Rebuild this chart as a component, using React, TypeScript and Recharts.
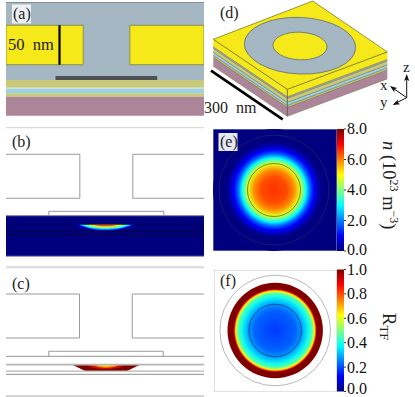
import React from "react";
import { ComposedChart, XAxis, YAxis, Area, Bar, Scatter, ReferenceArea } from "recharts";

// ---------- palette ----------
const YELLOW = "#f5e91a";
const GAP = "#a4b7c3";
const OLIVE = "#c9c97c";
const SKY = "#9bd1e6";
const MAUVE = "#ad8599";
const STRIP = "#4d5156";
const OUTLINE = "#9a9a9a";
const PALE = "#d9d9d9";
const FONT = "'Liberation Serif', serif";

// ---------- cross sections (nm) ----------
const SPAN = 247.5;
const sectionA = {
  leftDiskEnd: 96.5, rightDiskStart: 154.8, diskTop: 29.1, diskBottom: 78.4,
  stripStart: 61.9, stripEnd: 189, stripTop: 92.5, stripBottom: 97.5,
  ruleX: 66.9,
};
const stackBands = [
  { from: 97.5, to: 107.2, fill: OLIVE },
  { from: 107.2, to: 108, fill: "#e6e8c8" },
  { from: 108, to: 114.1, fill: SKY },
  { from: 114.1, to: 118.4, fill: OLIVE },
  { from: 118.4, to: 142.1, fill: MAUVE },
];

const densityOffsets = [-37.5, -33, -28, -22, -15, -8, 0, 8, 15, 22, 28, 33, 37.5];
const densityTop = 122.2;
const densityLevels = [
  { key: "d0", value: 0.12, depth: [0, 2, 3.5, 5, 6.5, 7.5, 8, 7.5, 6.5, 5, 3.5, 2, 0] },
  { key: "d1", value: 0.25, depth: [null, 0, 2, 3.8, 5.4, 6.2, 6.6, 6.2, 5.4, 3.8, 2, 0, null] },
  { key: "d2", value: 0.38, depth: [null, 0, 1.2, 3, 4.4, 5, 5.4, 5, 4.4, 3, 1.2, 0, null] },
  { key: "d3", value: 0.5, depth: [null, null, 0, 1.8, 3.2, 4, 4.2, 4, 3.2, 1.8, 0, null, null] },
  { key: "d4", value: 0.65, depth: [null, null, null, 0, 2, 2.8, 3.2, 2.8, 2, 0, null, null, null] },
  { key: "d5", value: 0.8, depth: [null, null, null, null, 0, 1.4, 1.8, 1.4, 0, null, null, null, null] },
];

const tfOffsets = [-41.7, -26, -24, -17, -10, -5, 0, 5, 10, 17, 24, 26, 41.7];
const tfTop = 128.8;
const tfLevels = [
  { key: "t0", fill: "#7f0000", depth: [0, 7.6, 7.6, 7.6, 7.6, 7.6, 7.6, 7.6, 7.6, 7.6, 7.6, 7.6, 0] },
  { key: "t1", fill: "#cc1000", depth: [null, null, 0, 3.4, 4.4, 4.8, 5, 4.8, 4.4, 3.4, 0, null, null] },
  { key: "t2", fill: "#ff9000", depth: [null, null, null, 0, 2.6, 3.2, 3.5, 3.2, 2.6, 0, null, null, null] },
  { key: "t3", fill: "#ffe800", depth: [null, null, null, null, 0, 1.6, 2, 1.6, 0, null, null, null, null] },
];

// ---------- 3D block (page units) ----------
const cornerX = [213.3, 287.3, 387.3];
const edgeY = [39.3, 89.3, 51.9];
const sideBands = [
  { key: "mauve", from: 18, to: 27, fill: MAUVE },
  { key: "olive2", from: 16, to: 18, fill: OLIVE },
  { key: "sky", from: 13, to: 16, fill: SKY },
  { key: "olive1", from: 9, to: 13, fill: OLIVE },
  { key: "slate", from: 7.5, to: 9, fill: GAP },
  { key: "gold", from: 0, to: 7.5, fill: YELLOW },
];
const topFace = [
  { x: 213.3, top: [39.3, 39.3] },
  { x: 287.3, top: [10.8, 89.3] },
  { x: 312.7, top: [1, 79.8] },
  { x: 387.3, top: [51.9, 51.9] },
];

// ---------- maps ----------
const densityRadii = [0, 13, 20, 26, 29, 32, 36, 40, 44, 48, 61];
const densityValues = [6.6, 6.4, 5.9, 4.8, 4.0, 3.0, 1.8, 1.0, 0.4, 0, 0];
const densityTicks = [0, 2, 4, 6, 8];
const ratioRadii = [0, 20, 26, 30, 34, 37, 38.5, 39.5, 40.5, 41.2, 42, 47.7];
const ratioValues = [0.18, 0.22, 0.27, 0.33, 0.4, 0.46, 0.55, 0.65, 0.8, 0.95, 1, 1];
const ratioTicks = [0, 0.2, 0.4, 0.6, 0.8, 1];

const jetKnots = [
  [0, 0, 0, 128], [0.125, 0, 0, 255], [0.375, 0, 255, 255],
  [0.625, 255, 255, 0], [0.875, 255, 0, 0], [1, 128, 0, 0],
];
const jet = (t: number) => {
  for (let i = 1; i < jetKnots.length; i++) {
    const [a, r0, g0, b0] = jetKnots[i - 1];
    const [b, r1, g1, b1] = jetKnots[i];
    if (t <= b) {
      const f = (t - a) / (b - a);
      return `rgb(${Math.round(r0 + (r1 - r0) * f)},${Math.round(g0 + (g1 - g0) * f)},${Math.round(b0 + (b1 - b0) * f)})`;
    }
  }
  return "rgb(128,0,0)";
};

const none = () => <g />;
const path = (key: string, pts: { x: number; y: number }[], stroke = OUTLINE, width = 1) => (
  <Scatter key={key} data={pts} line={{ stroke, strokeWidth: width }} shape={none} isAnimationActive={false} />
);
const seg = (x1: number, y1: number, x2: number, y2: number) => [{ x: x1, y: y1 }, { x: x2, y: y2 }];
const area = (x1: number, x2: number, y1: number, y2: number, fill: string, stroke = "none") => (
  <ReferenceArea key={`${x1}-${y1}-${fill}`} x1={x1} x2={x2} y1={y1} y2={y2} fill={fill} fillOpacity={1} stroke={stroke} ifOverflow="visible" />
);
const axes = (x: [number, number], y: [number, number]) => [
  <XAxis key="x" hide type="number" dataKey="x" domain={x} allowDataOverflow />,
  <YAxis key="y" hide type="number" dataKey="y" domain={y} reversed allowDataOverflow />,
];
const place = (left: number, top: number): React.CSSProperties => ({ position: "absolute", left, top });
const M0 = { top: 0, right: 0, bottom: 0, left: 0 };

const densityRows = densityOffsets.map((dx, i) => {
  const row: any = { x: 124.4 + dx };
  densityLevels.forEach((l) => {
    const d = l.depth[i];
    row[l.key] = d == null ? null : [densityTop, densityTop + d];
  });
  return row;
});
const tfRows = tfOffsets.map((dx, i) => {
  const row: any = { x: 125.1 + dx };
  tfLevels.forEach((l) => {
    const d = l.depth[i];
    row[l.key] = d == null ? null : [tfTop, tfTop + d];
  });
  return row;
});
const sideRows = cornerX.map((x, i) => {
  const row: any = { x };
  sideBands.forEach((b) => (row[b.key] = [edgeY[i] + b.from, edgeY[i] + b.to]));
  return row;
});

function PanelA() {
  const s = sectionA;
  return (
    <div style={place(5.5, 2)}>
      <ComposedChart width={198} height={114} margin={M0}>
        {axes([0, SPAN], [0, 142.5])}
        {area(0, SPAN, 0.4, 97.5, GAP)}
        {area(0, s.leftDiskEnd, s.diskTop, s.diskBottom, YELLOW, "#8f8f4a")}
        {area(s.rightDiskStart, SPAN, s.diskTop, s.diskBottom, YELLOW, "#8f8f4a")}
        {stackBands.map((b) => area(0, SPAN, b.from, b.to, b.fill))}
        {area(s.stripStart, s.stripEnd, s.stripTop, s.stripBottom, STRIP)}
        {path("top", seg(0, 0.4, SPAN, 0.4), "#75828c", 1)}
        {path("rule", seg(s.ruleX, s.diskTop, s.ruleX, s.diskBottom), "#000", 2.2)}
      </ComposedChart>
    </div>
  );
}

function PanelB() {
  return (
    <div style={place(5.5, 127)}>
      <ComposedChart width={198} height={130} margin={M0} data={densityRows}>
        {axes([0, SPAN], [0, 162.5])}
        {area(0, SPAN, 111, 161.5, "#00007f")}
        {densityLevels.map((l) => (
          <Area key={l.key} dataKey={l.key} type="monotone" fill={jet(l.value)} fillOpacity={1} stroke="none" isAnimationActive={false} dot={false} activeDot={false} />
        ))}
        {path("t", seg(0, 0.5, SPAN, 0.5), PALE, 1.5)}
        {path("l", [{ x: 0, y: 34.1 }, { x: 92.3, y: 34.1 }, { x: 92.3, y: 89.1 }, { x: 0, y: 89.1 }])}
        {path("r", [{ x: SPAN, y: 34.1 }, { x: 158.5, y: 34.1 }, { x: 158.5, y: 89.1 }, { x: SPAN, y: 89.1 }])}
        {path("p", [{ x: 53.5, y: 110.5 }, { x: 53.5, y: 105.4 }, { x: 197.3, y: 105.4 }, { x: 197.3, y: 110.5 }])}
        {path("o", seg(0, 110.9, SPAN, 110.9), "#7d7d9e", 1)}
        {path("b", seg(0, 161.6, SPAN, 161.6), "#8f8fb0", 1)}
        {path("h1", seg(0, 121.4, SPAN, 121.4), "#06063c", 0.8)}
        {path("h2", seg(0, 130, SPAN, 130), "#06063c", 1)}
        {path("h3", seg(0, 134.1, SPAN, 134.1), "#06063c", 1)}
      </ComposedChart>
    </div>
  );
}

function PanelC() {
  return (
    <div style={place(5.5, 262)}>
      <ComposedChart width={198} height={135} margin={M0} data={tfRows}>
        {axes([0, SPAN], [0, 168.75])}
        {tfLevels.map((l) => (
          <Area key={l.key} dataKey={l.key} type="linear" fill={l.fill} fillOpacity={1} stroke="none" isAnimationActive={false} dot={false} activeDot={false} />
        ))}
        {path("t", seg(0, 6.6, SPAN, 6.6), PALE, 2)}
        {path("l", [{ x: 0, y: 40 }, { x: 91.9, y: 40 }, { x: 91.9, y: 95 }, { x: 0, y: 95 }])}
        {path("r", [{ x: SPAN, y: 40 }, { x: 157.8, y: 40 }, { x: 157.8, y: 95 }, { x: SPAN, y: 95 }])}
        {path("p", [{ x: 53.5, y: 117.9 }, { x: 53.5, y: 111.6 }, { x: 196.5, y: 111.6 }, { x: 196.5, y: 117.9 }])}
        {path("c", seg(0, 117.9, SPAN, 117.9), "#aaaaaa", 1.2)}
        {path("h1", seg(0, 128.2, SPAN, 128.2), "#b5b5b5", 1.8)}
        {path("h2", seg(0, 136.4, SPAN, 136.4), "#b5b5b5", 1.4)}
        {path("h3", seg(0, 140.4, SPAN, 140.4), "#909090", 1)}
        {path("b", seg(0, 167.5, SPAN, 167.5), "#aaaaaa", 1)}
      </ComposedChart>
    </div>
  );
}

const ellipse = (rx: number, ry: number, fill: string) => (p: any) => (
  <ellipse cx={p.cx} cy={p.cy} rx={rx} ry={ry} fill={fill} stroke="#55606a" strokeWidth={0.7} transform={`rotate(2.5 ${p.cx} ${p.cy})`} />
);
const arrowHead = (p: any) => (
  <polygon points="0,0 -7,-2.6 -5.5,0 -7,2.6" fill="#111" transform={`translate(${p.cx} ${p.cy}) rotate(${p.payload.angle})`} />
);

function PanelD() {
  return (
    <div style={place(200, 0)}>
      <ComposedChart width={215} height={125} margin={M0} data={sideRows}>
        {axes([200, 415], [0, 125])}
        {sideBands.map((b) => (
          <Area key={b.key} dataKey={b.key} type="linear" fill={b.fill} fillOpacity={1} stroke="#6e6e50" strokeWidth={0.5} isAnimationActive={false} dot={false} activeDot={false} />
        ))}
        <Area data={topFace} dataKey="top" type="linear" fill={YELLOW} fillOpacity={1} stroke="#6b6b20" strokeWidth={0.7} isAnimationActive={false} dot={false} activeDot={false} />
        <Scatter data={[{ x: 300, y: 45.7 }]} shape={ellipse(55.7, 28.3, GAP)} isAnimationActive={false} />
        <Scatter data={[{ x: 300, y: 46 }]} shape={ellipse(27, 13.8, YELLOW)} isAnimationActive={false} />
        {path("k", seg(287.3, 89.3, 287.3, 116.3), "#555", 0.8)}
        {path("bar", seg(211, 70.7, 282.7, 119.3), "#000", 2.6)}
        {path("az", seg(406.7, 97.7, 406.7, 76), "#111", 1)}
        {path("ax", seg(406.7, 97.7, 391.5, 87), "#111", 1)}
        {path("ay", seg(406.7, 97.7, 394, 104), "#111", 1)}
        <Scatter
          data={[
            { x: 406.7, y: 74, angle: -90 },
            { x: 390, y: 86, angle: 215 },
            { x: 392.7, y: 105, angle: 154 },
          ]}
          shape={arrowHead}
          isAnimationActive={false}
        />
      </ComposedChart>
    </div>
  );
}

const disc = (r: number, fill: string, stroke = "none", width = 0.7) => (p: any) => (
  <circle cx={p.cx} cy={p.cy} r={r} fill={fill} stroke={stroke} strokeWidth={width} />
);
const radialStops = (radii: number[], vals: number[], max: number) =>
  radii.map((r, i) => (
    <stop key={r} offset={r / radii[radii.length - 1]} stopColor={jet(vals[i] / max)} />
  ));

function PanelE() {
  return (
    <div style={place(213, 129)}>
      <ComposedChart width={124} height={122} margin={M0}>
        <defs>
          <radialGradient id="nmap">{radialStops(densityRadii, densityValues, 8)}</radialGradient>
        </defs>
        {axes([-61, 63], [-61, 61])}
        {area(-61, 63, -61, 61, "#00007f", "#9aa5cc")}
        <Scatter data={[{ x: 0, y: 0 }]} shape={disc(61, "url(#nmap)")} isAnimationActive={false} />
        <Scatter data={[{ x: 0, y: 0 }]} shape={disc(55, "none", "#1d2a60")} isAnimationActive={false} />
        <Scatter data={[{ x: 0, y: 0 }]} shape={disc(26.5, "none", "#3f5a30")} isAnimationActive={false} />
      </ComposedChart>
    </div>
  );
}

function PanelF() {
  return (
    <div style={place(213.5, 269.5)}>
      <ComposedChart width={123} height={122} margin={M0}>
        <defs>
          <radialGradient id="rmap">{radialStops(ratioRadii, ratioValues, 1)}</radialGradient>
        </defs>
        {axes([-61.2, 61.8], [-60.5, 61.5])}
        {area(-61.2, 61.8, -60.5, 61.5, "#ffffff", "#c4c4c4")}
        <Scatter data={[{ x: 0, y: 0 }]} shape={disc(47.7, "url(#rmap)")} isAnimationActive={false} />
        <Scatter data={[{ x: 0, y: 0 }]} shape={disc(55.3, "none", "#999")} isAnimationActive={false} />
        <Scatter data={[{ x: 0, y: 0 }]} shape={disc(26.3, "none", "#15306a")} isAnimationActive={false} />
      </ComposedChart>
    </div>
  );
}

const edgeTick = (bottomLift: number) => (p: any) => (
  <text
    x={p.x + 1}
    y={p.y + (p.payload.value === 0 ? -bottomLift : 0)}
    dy="0.34em"
    fontFamily={FONT}
    fontSize={16}
    fill="#111"
  >
    {p.payload.value.toFixed(1)}
  </text>
);
function ColorBar({ id, top, max, ticks, marginTop, lift }: any) {
  const bar = [{ name: "scale", top: max }];
  return (
    <div style={place(337, top)}>
      <ComposedChart width={67} height={137} data={bar} margin={{ top: marginTop, right: 0, bottom: 137 - marginTop - 122, left: 0 }} barCategoryGap={0}>
        <defs>
          <linearGradient id={id} x1="0" y1="1" x2="0" y2="0">
            {jetKnots.map((k) => (
              <stop key={k[0]} offset={k[0]} stopColor={`rgb(${k[1]},${k[2]},${k[3]})`} />
            ))}
          </linearGradient>
        </defs>
        <XAxis hide type="category" dataKey="name" />
        <YAxis
          orientation="right"
          width={60}
          type="number"
          domain={[0, max]}
          ticks={ticks}
          interval={0}
          axisLine={false}
          tickSize={2}
          tickMargin={0}
          tick={edgeTick(lift)}
          stroke="#333"
        />
        <Bar dataKey="top" fill={`url(#${id})`} isAnimationActive={false} />
      </ComposedChart>
    </div>
  );
}

const T = ({ x, y, size = 16, children, rotate }: any) => (
  <text x={x} y={y} fontFamily={FONT} fontSize={size} fill="#222" transform={rotate ? `rotate(${rotate} ${x} ${y})` : undefined} style={{ whiteSpace: "pre" }}>
    {children}
  </text>
);

function Labels() {
  return (
    <div style={place(0, 0)}>
      <ComposedChart width={415} height={397} margin={M0}>
        <XAxis hide type="number" domain={[0, 415]} />
        <YAxis hide type="number" domain={[0, 397]} />
        <rect x={12} y={4.5} width={19} height={19} fill="#eef1f4" />
        <rect x={218.5} y={133} width={19} height={18} fill="#e4e6f2" />
        <T x={13} y={19}>(a)</T>
        <T x={8} y={50} size={16.5}>50  nm</T>
        <T x={12} y={147}>(b)</T>
        <T x={12} y={289}>(c)</T>
        <T x={220} y={18}>(d)</T>
        <T x={204} y={113}>300  nm</T>
        <T x={220} y={147}>(e)</T>
        <T x={220} y={286}>(f)</T>
        <T x={403} y={72} size={15}>z</T>
        <T x={380} y={90} size={15}>x</T>
        <T x={380} y={107} size={15}>y</T>
        <T x={383} y={141} size={18.5} rotate={90}>
          <tspan fontStyle="italic">n</tspan>
          {" (10"}
          <tspan dy={-7} fontSize={12}>23</tspan>
          <tspan dy={7}>{" m"}</tspan>
          <tspan dy={-7} fontSize={12}>−3</tspan>
          <tspan dy={7}>)</tspan>
        </T>
        <T x={383} y={312.7} size={19} rotate={90}>
          R<tspan dy={3} fontSize={13}>TF</tspan>
        </T>
      </ComposedChart>
    </div>
  );
}

export default function App() {
  return (
    <div style={{ position: "absolute", left: 0, top: 0, width: 415, height: 397, overflow: "hidden", background: "#fff" }}>
      <PanelA />
      <PanelB />
      <PanelC />
      <PanelD />
      <PanelE />
      <ColorBar id="jetE" top={120} max={8} ticks={densityTicks} marginTop={9} lift={1} />
      <PanelF />
      <ColorBar id="jetF" top={260} max={1} ticks={ratioTicks} marginTop={9.5} lift={3} />
      <Labels />
    </div>
  );
}
